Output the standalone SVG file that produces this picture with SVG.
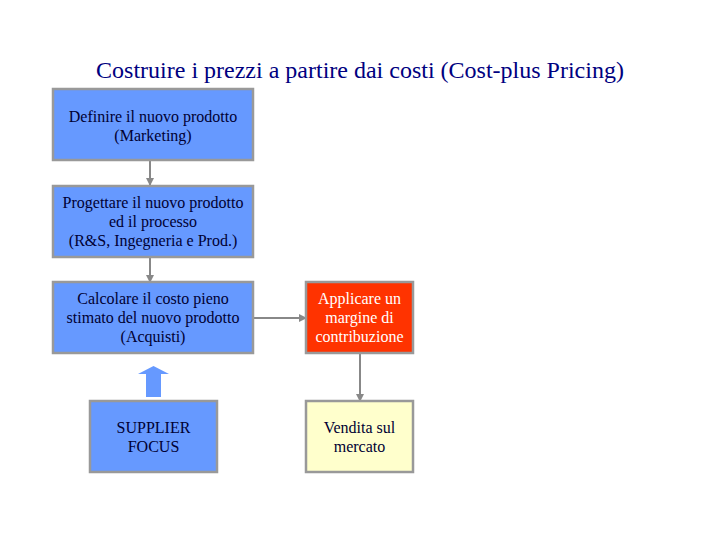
<svg xmlns="http://www.w3.org/2000/svg" width="720" height="540" viewBox="0 0 720 540">
<style>
.box{stroke:#999999;stroke-width:2.5}
.blue{fill:#6699FF}
.red{fill:#FF3300}
.yellow{fill:#FFFFCC}
text{font-family:"Liberation Serif","Times New Roman",serif;font-size:16px;text-anchor:middle;fill:#000033}
.title{font-size:24px;fill:#000080}
.white{fill:#FFFFFF}
.conn{stroke:#888888;stroke-width:2;fill:none;marker-end:url(#ah)}
</style>
<defs>
<marker id="ah" markerWidth="8" markerHeight="8" refX="7" refY="4" orient="auto" markerUnits="userSpaceOnUse">
<path d="M0,0 L8,4 L0,8 Z" fill="#888888"/>
</marker>
</defs>
<rect width="720" height="540" fill="#FFFFFF"/>
<text class="title" x="360" y="78">Costruire i prezzi a partire dai costi (Cost-plus Pricing)</text>
<g id="connectors">
<line class="conn" x1="150" y1="161" x2="150" y2="185"/>
<line class="conn" x1="150" y1="258" x2="150" y2="282"/>
<line class="conn" x1="254" y1="318" x2="306" y2="318"/>
<line class="conn" x1="360" y1="354" x2="360" y2="401"/>
<polygon points="146,397 161,397 161,374 169,374 153.5,366 138,374 146,374" fill="#6699FF"/>
</g>
<g id="n1">
<rect class="box blue" x="53" y="89" width="200" height="71"/>
<text x="153" y="122">Definire il nuovo prodotto</text>
<text x="153" y="141">(Marketing)</text>
</g>
<g id="n2">
<rect class="box blue" x="53" y="186" width="200" height="71"/>
<text x="153" y="208">Progettare il nuovo prodotto</text>
<text x="153" y="227">ed il processo</text>
<text x="153" y="246">(R&amp;S, Ingegneria e Prod.)</text>
</g>
<g id="n3">
<rect class="box blue" x="53" y="282" width="200" height="71"/>
<text x="153" y="304">Calcolare il costo pieno</text>
<text x="153" y="323">stimato del nuovo prodotto</text>
<text x="153" y="342">(Acquisti)</text>
</g>
<g id="n4">
<rect class="box red" x="306" y="282" width="107" height="71"/>
<text class="white" x="359.5" y="304">Applicare un</text>
<text class="white" x="359.5" y="323">margine di</text>
<text class="white" x="359.5" y="342">contribuzione</text>
</g>
<g id="n5">
<rect class="box yellow" x="306" y="401" width="107" height="71"/>
<text x="359.5" y="433">Vendita sul</text>
<text x="359.5" y="452">mercato</text>
</g>
<g id="n6">
<rect class="box blue" x="90" y="401" width="127" height="71"/>
<text x="153.5" y="433">SUPPLIER</text>
<text x="153.5" y="452">FOCUS</text>
</g>
</svg>
